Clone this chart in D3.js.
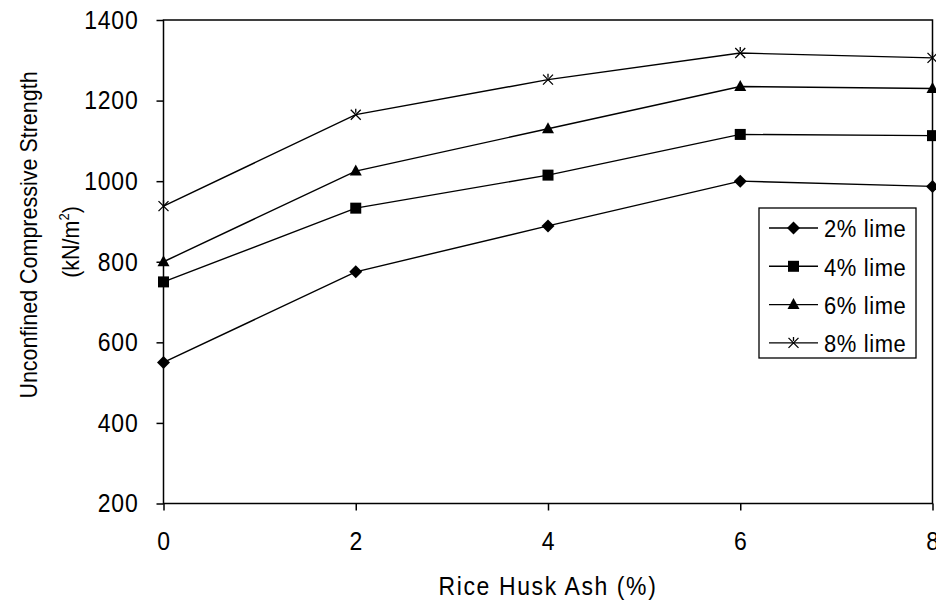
<!DOCTYPE html>
<html><head><meta charset="utf-8">
<script src="https://cdn.jsdelivr.net/npm/d3@7"></script>
<style>
body{margin:0;background:#fff}svg{display:block}
text{font-family:"Liberation Sans",Arial,sans-serif;fill:#000}
.tall{transform-box:fill-box;transform-origin:center;transform:scaleY(1.12)}
</style>
</head><body>
<script>
const riceHuskAsh = [0, 2, 4, 6, 8];
const seriesNames = ["2% lime", "4% lime", "6% lime", "8% lime"];
const lime2 = [550, 775, 889, 1000, 987];
const lime4 = [750, 933, 1015, 1116, 1113];
const lime6 = [800, 1025, 1130, 1235, 1230];
const lime8 = [938, 1165, 1252, 1318, 1306];
const yTicks = [200, 400, 600, 800, 1000, 1200, 1400];
const xTicks = [0, 2, 4, 6, 8];
const markerTypes = ["diamond", "square", "triangle", "x"];
const seriesValues = [lime2, lime4, lime6, lime8];

const W = 936, H = 605;
const svg = d3.select("body").append("svg").attr("width", W).attr("height", H);
const x = d3.scaleLinear().domain([0, 8]).range([163.5, 932.5]);
const y = d3.scaleLinear().domain([200, 1400]).range([503.5, 20]);

svg.append("rect").attr("x", x(0)).attr("y", y(1400)).attr("width", x(8) - x(0)).attr("height", y(200) - y(1400))
  .attr("fill", "none").attr("stroke", "#000").attr("stroke-width", 1.5);

const yAxis = svg.append("g").attr("transform", `translate(${x(0)},0)`)
  .call(d3.axisLeft(y).tickValues(yTicks).tickSize(7).tickPadding(18).tickFormat(d3.format("d")));
const xAxis = svg.append("g").attr("transform", `translate(0,${y(200)})`)
  .call(d3.axisBottom(x).tickValues(xTicks).tickSize(7).tickPadding(22).tickFormat(d3.format("d")));
[yAxis, xAxis].forEach(a => {
  a.attr("font-size", null).attr("font-family", null);
  a.select(".domain").remove();
  a.selectAll("line").attr("stroke", "#000").attr("stroke-width", 1.5);
  a.selectAll("text").attr("font-size", 23).attr("letter-spacing", 0.8).attr("class", "tall").attr("fill", "#000");
});

function drawMarker(g, type, cx, cy) {
  let d;
  if (type === "diamond") d = `M${cx},${cy - 6.5}L${cx + 6.5},${cy}L${cx},${cy + 6.5}L${cx - 6.5},${cy}Z`;
  else if (type === "square") d = `M${cx - 5.5},${cy - 5.5}h11v11h-11Z`;
  else if (type === "triangle") d = `M${cx},${cy - 6.5}L${cx + 6},${cy + 4.5}L${cx - 6},${cy + 4.5}Z`;
  if (type === "x") {
    const s = 5;
    g.append("path").attr("d", `M${cx - s},${cy - s}L${cx + s},${cy + s}M${cx - s},${cy + s}L${cx + s},${cy - s}M${cx},${cy - s - 1}L${cx},${cy - 2}`)
      .attr("stroke", "#000").attr("stroke-width", 1.3).attr("fill", "none");
  } else {
    g.append("path").attr("d", d).attr("fill", "#000");
  }
}

const line = d3.line().x((d, i) => x(riceHuskAsh[i])).y(d => y(d));
seriesValues.forEach((vals, si) => {
  const g = svg.append("g");
  g.append("path").datum(vals).attr("d", line).attr("fill", "none").attr("stroke", "#000").attr("stroke-width", 1.4);
  vals.forEach((v, i) => drawMarker(g, markerTypes[si], x(riceHuskAsh[i]), y(v)));
});

const lg = svg.append("g");
lg.append("rect").attr("x", 759).attr("y", 208).attr("width", 157).attr("height", 150).attr("fill", "#fff").attr("stroke", "#000").attr("stroke-width", 1.3);
seriesNames.forEach((n, i) => {
  const cy = 228 + i * 38.3;
  lg.append("line").attr("x1", 769).attr("x2", 818).attr("y1", cy).attr("y2", cy).attr("stroke", "#000").attr("stroke-width", 1.4);
  drawMarker(lg, markerTypes[i], 793.5, cy);
  lg.append("text").attr("x", 824).attr("y", cy + 8.5).attr("font-size", 22).attr("letter-spacing", 0.6).attr("class", "tall").text(n);
});

svg.append("text").attr("x", 548).attr("y", 594).attr("text-anchor", "middle").attr("font-size", 23)
  .attr("letter-spacing", 1.6).attr("class", "tall").text("Rice Husk Ash (%)");

const g1 = svg.append("g").attr("transform", "translate(36,235) rotate(-90)");
g1.append("text").attr("text-anchor", "middle").attr("font-size", 21.5).attr("class", "tall")
  .text("Unconfined  Compressive Strength");
const g2 = svg.append("g").attr("transform", "translate(78,242) rotate(-90)");
const t2 = g2.append("text").attr("text-anchor", "middle").attr("font-size", 21.5).attr("class", "tall");
t2.append("tspan").text("(kN/m");
t2.append("tspan").attr("font-size", 13).attr("dy", -9).text("2");
t2.append("tspan").attr("dy", 9).text(")");
</script>
</body></html>
